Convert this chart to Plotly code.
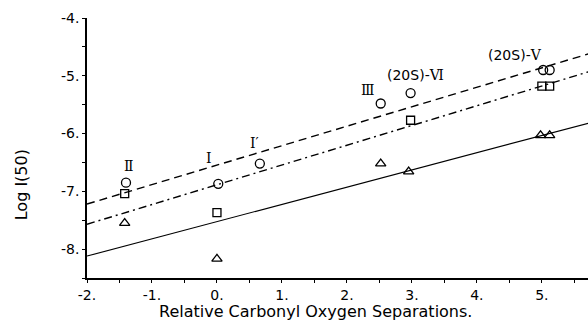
import plotly.graph_objects as go

# Data
circle_x = [-1.4, 0.02, 0.66, 2.52, 2.98, 5.02, 5.12]
circle_y = [-6.85, -6.87, -6.52, -5.48, -5.30, -4.90, -4.90]
square_x = [-1.42, 0.0, 2.98, 5.0, 5.12]
square_y = [-7.04, -7.37, -5.77, -5.18, -5.18]
tri_x = [-1.42, 0.0, 2.52, 2.95, 4.98, 5.12]
tri_y = [-7.55, -8.17, -6.52, -6.66, -6.03, -6.03]

# fitted lines (endpoints)
line_x = [-2.0, 5.75]
dash_y = [-7.22, -4.61]
dashdot_y = [-7.57, -4.92]
solid_y = [-8.12, -5.81]

SANS = "DejaVu Sans"
SERIF = "DejaVu Serif"
label_text = [
    "Ⅱ", "I", "I′", "Ⅲ",
    "<span style='font-family:DejaVu Sans'>(20S)-</span>Ⅵ",
    "<span style='font-family:DejaVu Sans'>(20S)-</span>Ⅴ",
]
label_x = [-1.35, -0.12, 0.57, 2.32, 3.05, 4.58]
label_y = [-6.56, -6.42, -6.17, -5.25, -4.99, -4.64]

xtick_vals = [-2, -1, 0, 1, 2, 3, 4, 5]
xtick_text = ["-2.", "-1.", "0.", "1.", "2.", "3.", "4.", "5."]
ytick_vals = [-8, -7, -6, -5, -4]
ytick_text = ["-8.", "-7.", "-6.", "-5.", "-4."]

fig = go.Figure()
fig.add_trace(go.Scatter(x=line_x, y=dash_y, mode="lines",
                         line=dict(color="black", width=1.4, dash="8px,5px")))
fig.add_trace(go.Scatter(x=line_x, y=dashdot_y, mode="lines",
                         line=dict(color="black", width=1.4, dash="8px,4px,2px,4px")))
fig.add_trace(go.Scatter(x=line_x, y=solid_y, mode="lines",
                         line=dict(color="black", width=1.2)))
fig.add_trace(go.Scatter(x=circle_x, y=circle_y, mode="markers",
                         marker=dict(symbol="circle-open", size=9, color="black", line=dict(width=1.3))))
fig.add_trace(go.Scatter(x=square_x, y=square_y, mode="markers",
                         marker=dict(symbol="square-open", size=8, color="black", line=dict(width=1.3))))
fig.add_trace(go.Scatter(x=tri_x, y=tri_y, mode="markers",
                         marker=dict(symbol="triangle-up-open", size=9, color="black", line=dict(width=1.3))))

for t, x, y in zip(label_text, label_x, label_y):
    fig.add_annotation(x=x, y=y, text=t, showarrow=False,
                       font=dict(family=SERIF, size=14, color="black"))

# axis titles
fig.add_annotation(xref="paper", yref="paper", x=0.457, y=-0.13,
                   xanchor="center", yanchor="middle",
                   text="Relative Carbonyl Oxygen Separations.", showarrow=False,
                   font=dict(family=SANS, size=16, color="black"))
fig.add_annotation(xref="paper", x=-0.13, yref="paper", y=0.36,
                   xanchor="center", yanchor="middle", textangle=-90,
                   text="Log I(50)", showarrow=False,
                   font=dict(family=SANS, size=16, color="black"))

fig.update_layout(
    width=588, height=328,
    margin=dict(l=87, r=0, t=18, b=50),
    paper_bgcolor="white", plot_bgcolor="white",
    showlegend=False,
    font=dict(family=SANS, size=14, color="black"),
)
fig.update_xaxes(range=[-2, 5.71], tickvals=xtick_vals, ticktext=xtick_text,
                 showgrid=False, zeroline=False, showline=True, linecolor="black", linewidth=1.5,
                 ticks="outside", ticklen=3, tickcolor="black", tickwidth=1.2,
                 minor=dict(ticks="outside", ticklen=3, dtick=0.5, tickcolor="black"))
fig.update_yaxes(range=[-8.5, -4], tickvals=ytick_vals, ticktext=ytick_text,
                 showgrid=False, zeroline=False, showline=True, linecolor="black", linewidth=1.5,
                 ticks="outside", ticklen=3, tickcolor="black", tickwidth=1.2,
                 minor=dict(ticks="outside", ticklen=3, dtick=0.5, tickcolor="black"))

fig.write_html("out.html")
